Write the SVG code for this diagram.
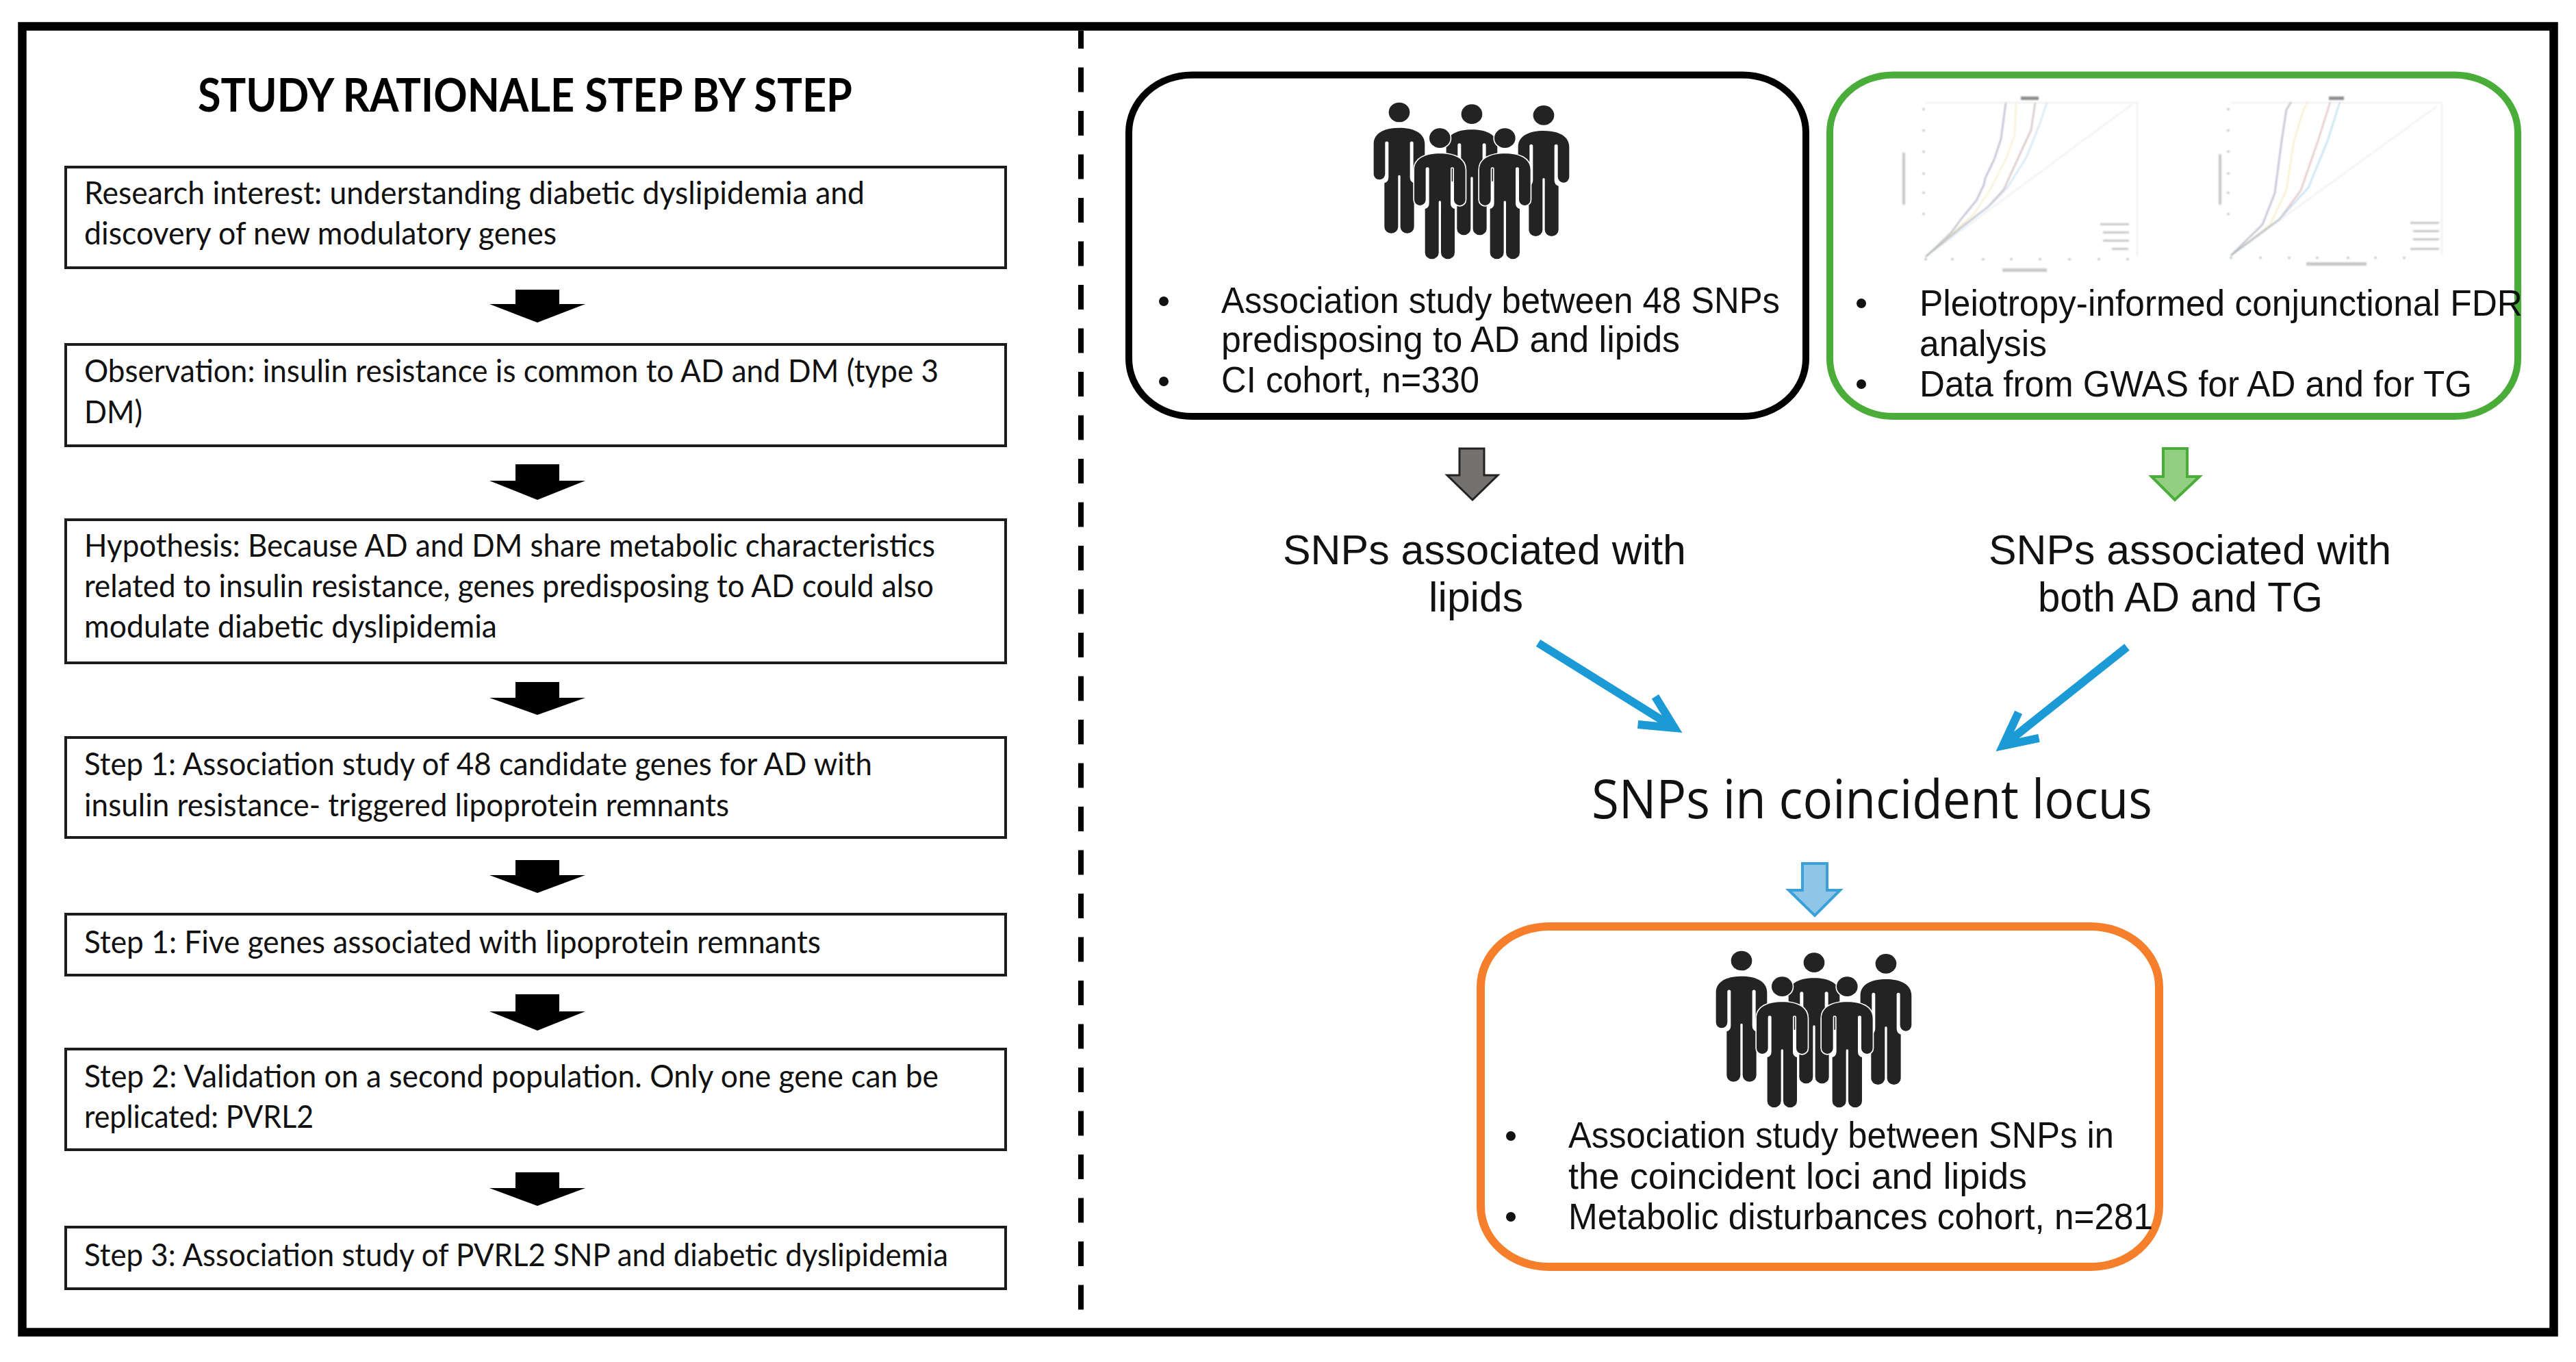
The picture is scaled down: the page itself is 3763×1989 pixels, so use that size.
<svg xmlns="http://www.w3.org/2000/svg" width="3763" height="1989" viewBox="0 0 3763 1989">
<style>
.step{fill:#fff;stroke:#1c1c1c;stroke-width:4}
.lt{font-family:"Lato","Liberation Sans",sans-serif;font-size:47px;fill:#111}
.title{font-family:"Lato","Liberation Sans",sans-serif;font-size:67px;font-weight:700;fill:#000}
.rt{font-family:"Liberation Sans",Arial,sans-serif;font-size:53px;fill:#111}
.big{font-family:"Liberation Sans",Arial,sans-serif;font-size:61px;fill:#111}
.loc{font-family:"Open Sans","Liberation Sans",sans-serif;font-size:79px;fill:#111}
.bul{fill:#111}
.blk{fill:#000}
.gry{fill:#767171;stroke:#222;stroke-width:3}
.grn{fill:#93cf82;stroke:#4aad3a;stroke-width:4}
.blu{fill:#8fc6e8;stroke:#3aa0d8;stroke-width:4}
.card{fill:#fff;stroke-width:10}
.ln{fill:none;stroke:#1b9ad6;stroke-width:12;marker-end:url(#open)}
.pers{fill:#232323;stroke:#fff;stroke-width:10;paint-order:stroke}
.c{fill:none;stroke-width:2;opacity:.55}
.ax{fill:none;stroke:#efefef;stroke-width:2}
.mk{fill:#c8c8c8}
.dk{fill:#8c8c8c}
</style>
<defs>
<marker id="open" markerUnits="userSpaceOnUse" orient="auto" markerWidth="80" markerHeight="80" refX="60" refY="40" viewBox="0 0 80 80" overflow="visible">
<path d="M12,16 L60,40 L12,64" fill="none" stroke="#1b9ad6" stroke-width="12"/>
</marker>
<filter id="soft" x="-30%" y="-30%" width="160%" height="160%"><feGaussianBlur stdDeviation="1.2"/></filter>
<g id="person">
<ellipse cx="0" cy="0" rx="46" ry="43"/>
<path d="M0,68 C60,68 112,88 112,140 L112,270 A25,25 0 0 1 62,270 L62,135 A7,7 0 0 0 47,135 L47,285 Q47,305 65,310 L65,502 A30,28 0 0 1 5,502 L5,280 A5,5 0 0 0 -5,280 L-5,502 A30,28 0 0 1 -65,502 L-65,310 Q-47,305 -47,285 L-47,135 A7,7 0 0 0 -62,135 L-62,270 A25,25 0 0 1 -112,270 L-112,140 C-112,88 -60,68 0,68 Z"/>
</g>
<g id="crowd" class="pers">
<use href="#person" x="480" y="80"/>
<use href="#person" x="162" y="72"/>
<use href="#person" x="795" y="85"/>
<use href="#person" x="340" y="185"/>
<use href="#person" x="625" y="185"/>
</g>
</defs>
<rect width="3763" height="1989" fill="#fff"/>
<g id="frame">
<rect x="32.500" y="38.500" width="3698" height="1907" fill="none" stroke="#000" stroke-width="12.500"/>
<line x1="1579" y1="45" x2="1579" y2="1940" stroke="#000" stroke-width="8" stroke-dasharray="36 27.500" stroke-dashoffset="10"/>
</g>
<g id="title"><text class="title" x="289" y="163" textLength="956" lengthAdjust="spacingAndGlyphs">STUDY RATIONALE STEP BY STEP</text></g>
<g id="step-research">
<rect class="step" x="96" y="244" width="1373" height="147"/>
<text class="lt" x="123" y="298" textLength="1140" lengthAdjust="spacingAndGlyphs">Research interest: understanding diabetic dyslipidemia and</text>
<text class="lt" x="123" y="357" textLength="690" lengthAdjust="spacingAndGlyphs">discovery of new modulatory genes</text>
</g>
<g id="step-observation">
<rect class="step" x="96" y="503" width="1373" height="148"/>
<text class="lt" x="123" y="558" textLength="1248" lengthAdjust="spacingAndGlyphs">Observation: insulin resistance is common to AD and DM (type 3</text>
<text class="lt" x="123" y="618" textLength="85" lengthAdjust="spacingAndGlyphs">DM)</text>
</g>
<g id="step-hypothesis">
<rect class="step" x="96" y="759" width="1373" height="209"/>
<text class="lt" x="123" y="813" textLength="1243" lengthAdjust="spacingAndGlyphs">Hypothesis: Because AD and DM share metabolic characteristics</text>
<text class="lt" x="123" y="872" textLength="1241" lengthAdjust="spacingAndGlyphs">related to insulin resistance, genes predisposing to AD could also</text>
<text class="lt" x="123" y="931" textLength="603" lengthAdjust="spacingAndGlyphs">modulate diabetic dyslipidemia</text>
</g>
<g id="step-1a">
<rect class="step" x="96" y="1077" width="1373" height="146"/>
<text class="lt" x="123" y="1132" textLength="1151" lengthAdjust="spacingAndGlyphs">Step 1: Association study of 48 candidate genes for AD with</text>
<text class="lt" x="123" y="1192" textLength="942" lengthAdjust="spacingAndGlyphs">insulin resistance- triggered lipoprotein remnants</text>
</g>
<g id="step-1b">
<rect class="step" x="96" y="1335" width="1373" height="89"/>
<text class="lt" x="123" y="1392" textLength="1076" lengthAdjust="spacingAndGlyphs">Step 1: Five genes associated with lipoprotein remnants</text>
</g>
<g id="step-2">
<rect class="step" x="96" y="1532" width="1373" height="147"/>
<text class="lt" x="123" y="1588" textLength="1248" lengthAdjust="spacingAndGlyphs">Step 2: Validation on a second population. Only one gene can be</text>
<text class="lt" x="123" y="1647" textLength="335" lengthAdjust="spacingAndGlyphs">replicated: PVRL2</text>
</g>
<g id="step-3">
<rect class="step" x="96" y="1792" width="1373" height="90"/>
<text class="lt" x="123" y="1849" textLength="1262" lengthAdjust="spacingAndGlyphs">Step 3: Association study of PVRL2 SNP and diabetic dyslipidemia</text>
</g>
<g id="connectors">
<polygon class="blk" points="753,423 817,423 817,444 855,444 785,471 715,444 753,444"/>
<polygon class="blk" points="753,678 817,678 817,702 855,702 785,730 715,702 753,702"/>
<polygon class="blk" points="753,996 817,996 817,1019 855,1019 785,1044 715,1019 753,1019"/>
<polygon class="blk" points="753,1256 817,1256 817,1278 855,1278 785,1304 715,1278 753,1278"/>
<polygon class="blk" points="753,1452 817,1452 817,1477 855,1477 785,1505 715,1477 753,1477"/>
<polygon class="blk" points="753,1712 817,1712 817,1735 855,1735 785,1761 715,1735 753,1735"/>
<polygon class="gry" points="2132,655 2168,655 2168,694 2188,694 2151,730 2114,694 2132,694"/>
<polygon class="grn" points="3160,655 3195,655 3195,696 3213,696 3177,730 3143,696 3160,696"/>
<polygon class="blu" points="2633,1261 2669,1261 2669,1300 2688,1300 2651,1337 2613,1300 2633,1300"/>
<path class="ln" d="M2247,939 L2446,1063"/>
<path class="ln" d="M3107,945 L2926,1089"/>
</g>
<g id="cohort-ci">
<rect class="card" x="1649" y="109.500" width="989" height="498.500" rx="92" ry="84" stroke="#000"/>
<use href="#crowd" transform="translate(1990 140) scale(.3333)"/>
<circle class="bul" cx="1700" cy="440" r="7"/>
<circle class="bul" cx="1700" cy="557" r="7"/>
<text class="rt" x="1784" y="457" textLength="816" lengthAdjust="spacingAndGlyphs">Association study between 48 SNPs</text>
<text class="rt" x="1784" y="514" textLength="670" lengthAdjust="spacingAndGlyphs">predisposing to AD and lipids</text>
<text class="rt" x="1784" y="573" textLength="377" lengthAdjust="spacingAndGlyphs">CI cohort, n=330</text>
</g>
<g id="pleiotropy">
<rect class="card" x="2673" y="109.500" width="1005" height="498.500" rx="92" ry="84" stroke="#4aad3a"/>
<g filter="url(#soft)">
<path class="ax" d="M2813,150 H3122 V375"/><path class="ax" d="M2813,375 L3115,152"/>
<path class="c" stroke="#70709a" d="M2813,375 L2850,340 L2867,317 L2887,293 L2898,270 L2900,260 L2913,233 L2923,203 L2927,173 L2930,150"/>
<path class="c" stroke="#f0e2a0" d="M2813,375 L2850,342 L2883,313 L2907,277 L2930,233 L2943,197 L2945,150"/>
<path class="c" stroke="#a88080" d="M2813,375 L2867,330 L2903,303 L2927,277 L2953,220 L2967,190 L2973,150"/>
<path class="c" stroke="#9cc8e6" d="M2813,375 L2867,332 L2910,297 L2933,273 L2960,230 L2980,180 L2990,150"/>
<rect class="dk" x="2952" y="141" width="26" height="5"/><rect class="mk" x="2925" y="392" width="65" height="5"/><rect class="mk" x="2779" y="223" width="4" height="76"/>
<rect class="mk" x="3068" y="326" width="42" height="3"/><rect class="mk" x="3072" y="338" width="38" height="3"/><rect class="mk" x="3072" y="350" width="38" height="3"/><rect class="mk" x="3085" y="362" width="24" height="3"/>
<path d="M2810,158v3M2810,189v3M2810,220v3M2810,252v3M2810,280v3M2810,311v3M2813,377v3M2852,377v3M2897,377v3M2938,377v3M2980,377v3M3023,377v3M3066,377v3M3108,377v3" stroke="#bbb" stroke-width="3" fill="none"/>
<path class="ax" d="M3259,150 H3567 V373"/><path class="ax" d="M3259,373 L3560,155"/>
<path class="c" stroke="#70709a" d="M3259,373 L3305,328 L3323,282 L3333,206 L3340,160 L3347,149"/>
<path class="c" stroke="#f0d890" d="M3259,373 L3316,328 L3340,278 L3351,206 L3365,160 L3371,149"/>
<path class="c" stroke="#c08080" d="M3259,373 L3330,320 L3361,278 L3386,206 L3404,149"/>
<path class="c" stroke="#7fbbe2" d="M3259,373 L3330,320 L3372,274 L3400,206 L3418,149"/>
<rect class="dk" x="3402" y="141" width="22" height="5"/><rect class="mk" x="3369" y="383" width="88" height="5"/><rect class="mk" x="3241" y="225" width="4" height="74"/>
<rect class="mk" x="3521" y="324" width="42" height="3"/><rect class="mk" x="3525" y="336" width="38" height="3"/><rect class="mk" x="3525" y="348" width="38" height="3"/><rect class="mk" x="3521" y="362" width="42" height="3"/>
<path d="M3255,158v3M3255,189v3M3255,220v3M3255,252v3M3255,280v3M3255,311v3M3259,375v3M3302,375v3M3344,375v3M3385,375v3M3430,375v3M3470,375v3M3512,375v3" stroke="#bbb" stroke-width="3" fill="none"/>
</g>
<circle class="bul" cx="2719" cy="443" r="7"/>
<circle class="bul" cx="2719" cy="561" r="7"/>
<text class="rt" x="2804" y="461" textLength="881" lengthAdjust="spacingAndGlyphs">Pleiotropy-informed conjunctional FDR</text>
<text class="rt" x="2804" y="520" textLength="186" lengthAdjust="spacingAndGlyphs">analysis</text>
<text class="rt" x="2804" y="579" textLength="807" lengthAdjust="spacingAndGlyphs">Data from GWAS for AD and for TG</text>
</g>
<g id="snps-lipids">
<text class="big" x="1874" y="824" textLength="589" lengthAdjust="spacingAndGlyphs">SNPs associated with</text>
<text class="big" x="2087" y="893" textLength="138" lengthAdjust="spacingAndGlyphs">lipids</text>
</g>
<g id="snps-both">
<text class="big" x="2905" y="824" textLength="588" lengthAdjust="spacingAndGlyphs">SNPs associated with</text>
<text class="big" x="2977" y="893" textLength="416" lengthAdjust="spacingAndGlyphs">both AD and TG</text>
</g>
<g id="snps-coincident">
<text class="loc" x="2325" y="1195" textLength="819" lengthAdjust="spacingAndGlyphs">SNPs in coincident locus</text>
</g>
<g id="cohort-metabolic">
<rect class="card" x="2163" y="1353" width="991" height="497" rx="100" ry="88" stroke="#f57f2a" style="stroke-width:12"/>
<use href="#crowd" transform="translate(2490 1379) scale(.3333)"/>
<circle class="bul" cx="2207" cy="1659" r="7"/>
<circle class="bul" cx="2207" cy="1777" r="7"/>
<text class="rt" x="2291" y="1676" textLength="797" lengthAdjust="spacingAndGlyphs">Association study between SNPs in</text>
<text class="rt" x="2291" y="1736" textLength="670" lengthAdjust="spacingAndGlyphs">the coincident loci and lipids</text>
<text class="rt" x="2291" y="1795" textLength="854" lengthAdjust="spacingAndGlyphs">Metabolic disturbances cohort, n=281</text>
</g>
</svg>
